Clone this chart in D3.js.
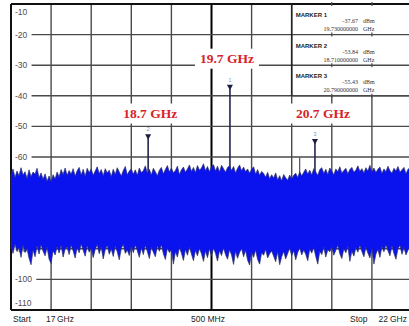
<!DOCTYPE html>
<html>
<head>
<meta charset="utf-8">
<script src="https://cdn.jsdelivr.net/npm/d3@7"></script>
<style>
  html, body { margin: 0; padding: 0; background: #fff; }
  svg { display: block; }
</style>
</head>
<body>
<svg id="chart" width="409" height="326"></svg>
<script>
// --- chart data ---
const freqStart = 17;   // GHz
const freqStop = 22;    // GHz
const levelTicks = [-10, -20, -30, -40, -50, -60, -70, -80, -90, -100, -110];

// noise floor envelope, one sample every 0.025 GHz from 17 to 22 GHz (dBm)
const traceTop = [
  -65.8, -63.9, -66.7, -64.6, -66.1, -63.5, -65.9, -64.8, -67.0, -64.2,
  -66.4, -64.9, -65.6, -63.7, -66.8, -65.2, -67.3, -65.5, -67.9, -66.2,
  -68.1, -65.8, -67.2, -64.9, -66.5, -64.1, -65.7, -63.6, -66.0, -64.4,
  -65.6, -63.8, -66.2, -64.5, -63.4, -65.9, -64.0, -66.3, -63.7, -65.1,
  -63.9, -66.0, -64.6, -63.2, -65.4, -64.1, -66.1, -63.8, -65.2, -64.3,
  -66.4, -64.0, -65.7, -63.5, -64.9, -66.2, -64.4, -63.1, -65.8, -64.6,
  -63.9, -65.6, -64.2, -66.0, -63.6, -65.1, -64.5, -62.9, -65.3, -64.0,
  -65.9, -63.7, -64.8, -66.1, -64.3, -63.4, -65.5, -64.1, -62.8, -64.9,
  -63.6, -65.2, -64.4, -63.0, -65.7, -64.2, -63.3, -65.0, -63.9, -62.6,
  -64.7, -63.4, -65.1, -62.8, -64.3, -63.6, -62.2, -64.5, -63.1, -64.8,
  -63.2, -62.5, -64.6, -63.0, -64.9, -62.7, -63.8, -65.0, -63.4, -62.9,
  -64.4, -63.1, -65.2, -63.7, -62.6, -64.5, -63.3, -64.8, -63.9, -65.3,
  -64.0, -63.2, -65.6, -64.1, -66.0, -64.7, -65.4, -66.6, -65.0, -67.1,
  -65.8, -66.9, -65.2, -67.5, -66.1, -67.8, -65.7, -66.8, -67.6, -65.9,
  -67.2, -66.0, -65.3, -66.7, -64.8, -66.2, -65.0, -63.9, -65.6, -64.3,
  -65.9, -63.8, -64.9, -66.0, -64.1, -63.5, -65.4, -64.0, -65.7, -63.6,
  -64.6, -65.8, -63.9, -64.8, -63.2, -65.3, -64.4, -63.7, -65.5, -64.1,
  -63.4, -65.0, -64.3, -62.9, -64.7, -63.8, -65.2, -63.5, -64.6, -62.7,
  -64.9, -63.6, -65.1, -64.0, -63.3, -65.4, -63.9, -64.8, -63.0, -64.5,
  -65.3, -63.7, -64.6, -63.1, -65.0, -64.2, -63.4, -65.5, -64.0, -63.6, -64.8
];
const traceBottom = [
  -89.2, -91.5, -88.6, -90.9, -89.7, -92.8, -88.9, -91.2, -90.0, -93.1,
  -95.2, -90.4, -92.6, -89.1, -91.7, -88.7, -90.8, -92.3, -89.5, -93.4,
  -94.8, -90.6, -92.0, -89.3, -91.4, -88.9, -92.7, -90.1, -89.4, -91.9,
  -88.8, -90.7, -93.0, -89.6, -91.3, -88.5, -90.5, -92.4, -89.0, -91.1,
  -89.8, -92.9, -90.2, -88.7, -91.6, -89.4, -93.3, -90.3, -88.9, -91.8,
  -90.1, -92.5, -89.2, -91.0, -93.6, -89.9, -88.6, -91.5, -90.4, -92.2,
  -89.1, -91.3, -88.8, -90.6, -92.8, -89.7, -91.9, -88.9, -90.9, -93.2,
  -89.5, -91.1, -92.6, -89.0, -90.8, -88.7, -91.6, -93.5, -89.8, -91.2,
  -90.3, -95.0, -91.0, -92.7, -89.6, -91.4, -93.8, -90.2, -92.1, -89.4,
  -91.7, -93.9, -90.5, -92.3, -89.9, -91.6, -94.1, -90.7, -92.9, -90.0,
  -92.4, -89.8, -91.5, -94.0, -90.6, -92.2, -89.7, -91.9, -93.4, -90.3,
  -92.0, -95.1, -90.8, -93.1, -91.2, -89.9, -92.6, -90.5, -93.7, -95.3,
  -91.1, -92.8, -90.4, -93.5, -95.0, -91.3, -92.1, -90.2, -93.0, -91.6,
  -90.7, -92.4, -94.2, -91.0, -95.2, -92.6, -90.9, -93.3, -91.5, -89.8,
  -92.3, -90.6, -93.6, -91.2, -89.7, -92.0, -90.4, -91.8, -93.9, -90.1,
  -91.4, -89.6, -92.5, -95.0, -90.8, -91.9, -89.5, -92.7, -90.3, -91.0,
  -89.4, -92.1, -90.5, -88.9, -91.6, -93.2, -90.0, -91.3, -89.2, -94.1,
  -90.7, -92.4, -89.6, -91.1, -88.8, -90.9, -92.6, -89.5, -91.4, -93.0,
  -89.9, -95.0, -91.7, -90.2, -92.8, -89.3, -91.0, -88.7, -90.6, -92.3,
  -89.1, -91.5, -93.4, -90.0, -88.9, -91.8, -89.6, -92.0, -90.4, -89.2, -91.3
];
const traceStep = 0.025; // GHz between samples

// stray spurs poking out of the noise
const spurFreqs = [20.6];
const spurLevels = [-60.2];

// markers
const markerIds = [1, 2, 3];
const markerFreqs = [19.73, 18.71, 20.79];    // GHz
const markerLevels = [-37.67, -53.84, -55.43]; // dBm

// annotations
const peakLabels = ['19.7 GHz', '18.7 GHz', '20.7 GHz'];

const startLabel = ['Start', '17', 'GHz'];
const spanLabel = '500 MHz';
const stopLabel = ['Stop', '22', 'GHz'];

// --- drawing ---
const svg = d3.select('#chart');
const W = 409, H = 326;

const x = d3.scaleLinear().domain([freqStart, freqStop]).range([11, 412]);
const y = d3.scaleLinear().domain([-10, -110]).range([4, 310]);

svg.append('rect').attr('width', W).attr('height', H).attr('fill', '#fff');

// grid
const vTicks = x.ticks(10);
svg.append('g').selectAll('line')
  .data(vTicks.slice(1))
  .join('line')
  .attr('x1', d => x(d)).attr('x2', d => x(d))
  .attr('y1', y(-10)).attr('y2', y(-110))
  .attr('stroke', d => d === 19.5 ? '#000' : '#4a4a4a')
  .attr('stroke-width', d => d === 19.5 ? 2 : 1.4);

svg.append('g').selectAll('line')
  .data(levelTicks.slice(1, -1))
  .join('line')
  .attr('x1', x(freqStart)).attr('x2', x(freqStop))
  .attr('y1', d => y(d)).attr('y2', d => y(d))
  .attr('stroke', '#4a4a4a')
  .attr('stroke-width', 1.4);

// frame (right edge falls outside the picture)
const frame = svg.append('g').attr('stroke', '#111').attr('stroke-width', 2);
frame.append('line').attr('x1', x(freqStart)).attr('x2', x(freqStop)).attr('y1', y(-10)).attr('y2', y(-10));
frame.append('line').attr('x1', x(freqStart)).attr('x2', x(freqStop)).attr('y1', y(-110)).attr('y2', y(-110));
frame.append('line').attr('x1', x(freqStart)).attr('x2', x(freqStart)).attr('y1', y(-10)).attr('y2', y(-110));

// level labels sit on a white patch that cuts the grid line
const lvl = svg.append('g');
levelTicks.forEach((v, i) => {
  let ty = y(v);
  if (i === 0) ty += 8;
  if (i === levelTicks.length - 1) ty -= 7;
  const t = lvl.append('text')
    .attr('x', 15).attr('y', ty).attr('dy', '0.35em')
    .attr('font-family', 'Liberation Sans, Arial, sans-serif')
    .attr('font-size', 8.5)
    .attr('fill', '#4d4d4d')
    .text(v);
  const bb = t.node().getBBox();
  lvl.insert('rect', 'text')
    .attr('x', 12).attr('y', ty - 4)
    .attr('width', bb.x + bb.width + 4 - 12).attr('height', 8)
    .attr('fill', '#fff');
});

// marker stems (the trace spikes) go under the noise band
const mk = markerIds.map((id, i) => ({ id, f: markerFreqs[i], v: markerLevels[i] }));
svg.append('g').selectAll('line')
  .data(mk)
  .join('line')
  .attr('x1', d => x(d.f)).attr('x2', d => x(d.f))
  .attr('y1', d => y(d.v)).attr('y2', y(-80))
  .attr('stroke', '#23254f')
  .attr('stroke-width', 1.6);

svg.append('g').selectAll('line')
  .data(spurFreqs)
  .join('line')
  .attr('x1', d => x(d)).attr('x2', d => x(d))
  .attr('y1', (d, i) => y(spurLevels[i])).attr('y2', y(-80))
  .attr('stroke', '#2a2c5c')
  .attr('stroke-width', 1);

// noise band
const band = traceTop.map((t, i) => ({ f: freqStart + i * traceStep, hi: t, lo: traceBottom[i] }));
const area = d3.area()
  .x(d => x(d.f))
  .y0(d => y(d.lo))
  .y1(d => y(d.hi));

svg.append('path')
  .datum(band)
  .attr('d', area)
  .attr('fill', '#0a12ee')
  .attr('stroke', '#2b2f6e')
  .attr('stroke-width', 0.7)
  .attr('stroke-linejoin', 'miter');

// marker heads
const heads = svg.append('g').selectAll('g')
  .data(mk)
  .join('g')
  .attr('transform', d => `translate(${x(d.f)},${y(d.v)})`);
heads.append('path')
  .attr('d', 'M-3,-4L3,-4L0,1.5Z')
  .attr('fill', '#1b1d3f');
heads.append('text')
  .attr('y', -7)
  .attr('text-anchor', 'middle')
  .attr('font-family', 'Liberation Sans, Arial, sans-serif')
  .attr('font-size', 6)
  .attr('fill', '#7f9fc4')
  .text(d => d.id);

// marker table, top right
const tx0 = x(20.5);
const rowEdges = [-10, -20, -30, -40];
const table = svg.append('g');
table.append('rect')
  .attr('x', tx0 + 1).attr('y', y(-10) + 1)
  .attr('width', W - tx0).attr('height', y(-40) - y(-10) - 1)
  .attr('fill', '#fff');
table.selectAll('line.row')
  .data(rowEdges.slice(1))
  .join('line')
  .attr('x1', tx0).attr('x2', W)
  .attr('y1', d => y(d)).attr('y2', d => y(d))
  .attr('stroke', '#4a4a4a').attr('stroke-width', 1.4);
table.append('line')
  .attr('x1', tx0).attr('x2', tx0)
  .attr('y1', y(-10)).attr('y2', y(-40))
  .attr('stroke', '#222').attr('stroke-width', 1.6);
// little stubs where hidden grid lines meet the row lines
rowEdges.forEach(r => {
  [21, 21.5].forEach(f => {
    table.append('line')
      .attr('x1', x(f)).attr('x2', x(f))
      .attr('y1', y(r) - 2).attr('y2', y(r) + 2)
      .attr('stroke', '#4a4a4a').attr('stroke-width', 1.2);
  });
});

mk.forEach((d, i) => {
  const top = y(rowEdges[i]);
  table.append('text')
    .attr('x', tx0 + 4).attr('y', top + 13)
    .attr('font-family', 'Liberation Sans, Arial, sans-serif')
    .attr('font-weight', 'bold')
    .attr('font-size', 6)
    .attr('fill', '#222')
    .text(`MARKER  ${d.id}`);
  const serif = 'Liberation Serif, Times New Roman, serif';
  table.append('text')
    .attr('x', 358).attr('y', top + 19)
    .attr('text-anchor', 'end')
    .attr('font-family', serif).attr('font-size', 6).attr('fill', '#333')
    .text(d.v.toFixed(2));
  table.append('text')
    .attr('x', 363).attr('y', top + 19)
    .attr('font-family', serif).attr('font-size', 6).attr('fill', '#333')
    .text('dBm');
  table.append('text')
    .attr('x', 358).attr('y', top + 27)
    .attr('text-anchor', 'end')
    .attr('font-family', serif).attr('font-size', 6).attr('fill', '#333')
    .text(d.f.toFixed(9));
  table.append('text')
    .attr('x', 363).attr('y', top + 27)
    .attr('font-family', serif).attr('font-size', 6).attr('fill', '#333')
    .text('GHz');
});

// red peak captions with white boxes
const capOffsets = [-3, 2, 8];
const caps = svg.append('g');
mk.forEach((d, i) => {
  const cx = x(d.f) + capOffsets[i];
  const cy = i === 0 ? y(d.v) - 30 : y(-45.8);
  const t = caps.append('text')
    .attr('x', cx).attr('y', cy).attr('dy', '0.35em')
    .attr('text-anchor', 'middle')
    .attr('font-family', 'Liberation Serif, Times New Roman, serif')
    .attr('font-weight', 'bold')
    .attr('font-size', 13.5)
    .attr('fill', '#d8232a')
    .text(peakLabels[i]);
  const bb = t.node().getBBox();
  caps.insert('rect', 'text')
    .attr('x', bb.x - 5).attr('y', cy - 10)
    .attr('width', bb.width + 10).attr('height', 20)
    .attr('fill', '#fff');
});

// bottom annotation line
const foot = svg.append('g')
  .attr('font-family', 'Liberation Sans, Arial, sans-serif')
  .attr('font-size', 8.5)
  .attr('fill', '#222');
[13, 46, 57].forEach((px, i) => foot.append('text').attr('x', px).attr('y', 322).text(startLabel[i]));
foot.append('text').attr('x', 208).attr('y', 322).attr('text-anchor', 'middle').text(spanLabel);
foot.append('text').attr('x', 350).attr('y', 322).text(stopLabel[0]);
foot.append('text').attr('x', 388).attr('y', 322).attr('text-anchor', 'end').text(stopLabel[1]);
foot.append('text').attr('x', 407).attr('y', 322).attr('text-anchor', 'end').text(stopLabel[2]);
</script>
</body>
</html>
